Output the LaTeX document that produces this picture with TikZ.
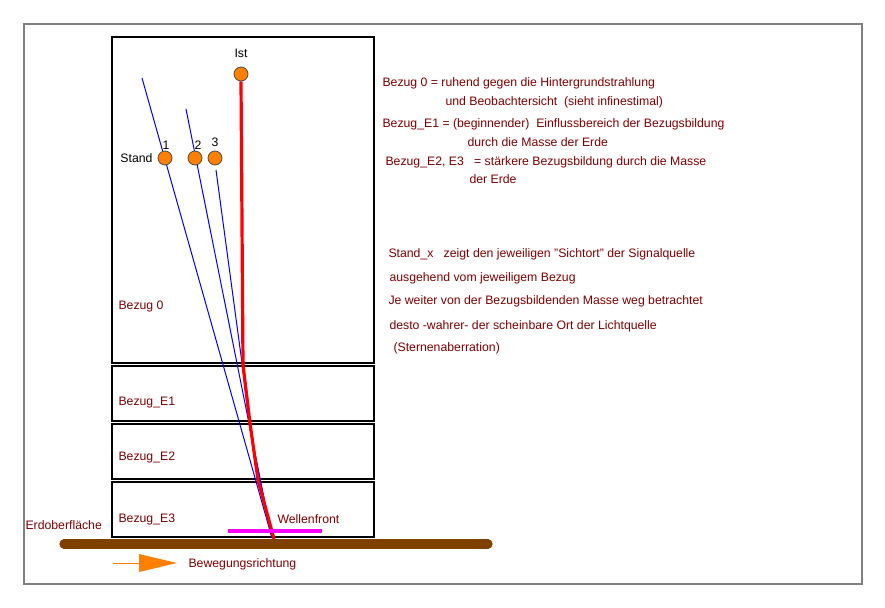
\documentclass[tikz,border=0pt]{standalone}
\usepackage{fontspec}
\setmainfont{Liberation Sans}
\usetikzlibrary{arrows.meta}

\definecolor{dkred}{HTML}{800000}
\definecolor{orng}{HTML}{FF8000}
\definecolor{erde}{HTML}{804000}
\definecolor{mgnt}{HTML}{FF00FF}
\definecolor{rot}{HTML}{FF0000}
\definecolor{blau}{HTML}{0000FF}
\tikzset{every picture/.style={line width=0.75pt}}
\tikzset{
  txt/.style={inner sep=0.75pt, text=dkred, font=\fontsize{9.2}{11}\selectfont},
  lbl/.style={inner sep=0.75pt, text=black, font=\fontsize{9.2}{11}\selectfont},
  punkt/.style={circle, draw=black!70, fill=orng, minimum size=10.5pt, inner sep=0pt, line width=0.6pt},
  schicht/.style={draw=black, line width=1.1pt},
  strahl/.style={draw=blau, line width=0.75pt}
}

\begin{document}
\begin{tikzpicture}[x=0.75pt,y=0.75pt,yscale=-1,xscale=1]
	\useasboundingbox (0,0) rectangle (885,607);
	
	%Shape: Frame [id:frame]
	\draw [color=black!50, line width=1.1pt] (24,24) rectangle (862,584) ;
	
	%Shape: Rectangle [id:bezug0]
	\draw [schicht] (112,37) rectangle (374,363) ;
	%Shape: Rectangle [id:bezugE1]
	\draw [schicht] (112,366) rectangle (374,421) ;
	%Shape: Rectangle [id:bezugE2]
	\draw [schicht] (112,424) rectangle (374,479) ;
	%Shape: Rectangle [id:bezugE3]
	\draw [schicht] (112,482) rectangle (374,537) ;
	
	%Straight Lines [id:strahl1]
	\draw [strahl] (142,78) -- (272,538) ;
	%Straight Lines [id:strahl2]
	\draw [strahl] (186,109) -- (272,538) ;
	%Straight Lines [id:strahl3]
	\draw [strahl] (216,170) -- (242,363) -- (250,430) -- (272,538) ;
	
	%Shape: Circle [id:ist]
	\node [punkt] (ist) at (241,74) {} ;
	%Straight Lines [id:lichtweg]
	\draw [color=rot, line width=2.4pt] (ist.south) -- (243,365) -- (250,423) -- (258,480) -- (274,539) ;
	
	%Shape: Circle [id:stand1]
	\node [punkt] (stand1) at (165,158) {} ;
	%Shape: Circle [id:stand2]
	\node [punkt] (stand2) at (195,158) {} ;
	%Shape: Circle [id:stand3]
	\node [punkt] (stand3) at (215,158) {} ;
	
	%Straight Lines [id:wellenfront]
	\draw [color=mgnt, line width=2.3pt] (228,531) -- (322,531) ;
	%Straight Lines [id:erde]
	\draw [color=erde, line width=7pt, line cap=round] (64,544) -- (488,544) ;
	
	%Straight Lines [id:richtung]
	\draw [color=orng, line width=0.75pt] (113,563) -- (140,563) ;
	%Shape: Triangle [id:pfeil]
	\fill [color=orng] (139,554) -- (177,563) -- (139,572) -- cycle ;
	
	% Text Node
	\node [lbl, anchor=south] (istlbl) at (241,59) {Ist} ;
	% Text Node
	\node [lbl, anchor=east] (standlbl) at (154,158) {Stand} ;
	% Text Node
	\node [lbl, anchor=south] (n1) at (166,151) {1} ;
	% Text Node
	\node [lbl, anchor=south] (n2) at (198,151) {2} ;
	% Text Node
	\node [lbl, anchor=south] (n3) at (215,148) {3} ;
	
	% Text Node
	\node [txt, anchor=west] (b0) at (117,306) {Bezug 0} ;
	% Text Node
	\node [txt, anchor=west] (e1) at (117,403) {Bezug\_E1} ;
	% Text Node
	\node [txt, anchor=west] (e2) at (117,457) {Bezug\_E2} ;
	% Text Node
	\node [txt, anchor=west] (e3) at (117,519) {Bezug\_E3} ;
	% Text Node
	\node [txt, anchor=west] (wf) at (276,519) {Wellenfront} ;
	% Text Node
	\node [txt, anchor=west] (ob) at (24,525) {Erdoberfläche} ;
	% Text Node
	\node [txt, anchor=west] (bw) at (187,564) {Bewegungsrichtung} ;
	
	% Text Node
	\node [txt, anchor=west] (t1) at (381,83) {Bezug 0 = ruhend gegen die Hintergrundstrahlung} ;
	% Text Node
	\node [txt, anchor=west] (t2) at (444,102) {und Beobachtersicht\ \ (sieht infinestimal)} ;
	% Text Node
	\node [txt, anchor=west] (t3) at (381,124) {Bezug\_E1 = (beginnender)\ \ Einflussbereich der Bezugsbildung} ;
	% Text Node
	\node [txt, anchor=west] (t4) at (466,142) {durch die Masse der Erde} ;
	% Text Node
	\node [txt, anchor=west] (t5) at (384,162) {Bezug\_E2, E3\ \ \ = stärkere Bezugsbildung durch die Masse} ;
	% Text Node
	\node [txt, anchor=west] (t6) at (468,179) {der Erde} ;
	
	% Text Node
	\node [txt, anchor=west] (s1) at (387,254) {Stand\_x\ \ \ zeigt den jeweiligen "Sichtort" der Signalquelle} ;
	% Text Node
	\node [txt, anchor=west] (s2) at (388,278) {ausgehend vom jeweiligem Bezug} ;
	% Text Node
	\node [txt, anchor=west] (s3) at (387,301) {Je weiter von der Bezugsbildenden Masse weg betrachtet} ;
	% Text Node
	\node [txt, anchor=west] (s4) at (388,326) {desto -wahrer- der scheinbare Ort der Lichtquelle} ;
	% Text Node
	\node [txt, anchor=west] (s5) at (392,348) {(Sternenaberration)} ;
	
\end{tikzpicture}
\end{document}
